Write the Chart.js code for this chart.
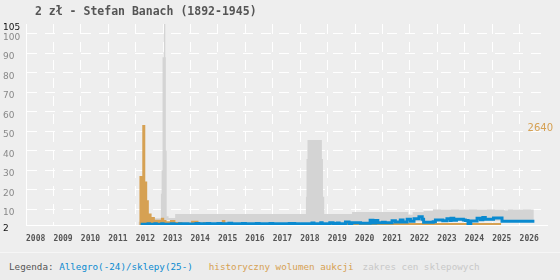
<!DOCTYPE html>
<html>
<head>
<meta charset="utf-8">
<script src="https://cdn.jsdelivr.net/npm/chart.js@4"></script>
<style>
  body { margin: 0; background: #eeeeee; width: 560px; height: 280px; overflow: hidden; position: relative; font-family: "DejaVu Sans Mono", monospace; }
  canvas { position: absolute; left: 0; top: 0; }
  #title { position: absolute; left: 35px; top: 4px; font-size: 11.5px; font-weight: bold; color: #555; white-space: pre; }
  #legend { position: absolute; left: 0; top: 252px; width: 560px; height: 28px; box-sizing: border-box; background: #ececec; border-top: 1px solid #f6f6f6; padding-left: 9px; font-size: 9.25px; line-height: 27px; white-space: pre; }
</style>
</head>
<body>
<canvas id="chart" width="560" height="252"></canvas>
<div id="title">2 zł - Stefan Banach (1892-1945)</div>
<div id="legend"><span style="color:#555">Legenda: </span><span style="color:#0a8ad0">Allegro(-24)/sklepy(25-)</span><span style="color:#d6a153;margin-left:16px">historyczny wolumen aukcji</span><span style="color:#c8c8c8;margin-left:9px">zakres cen sklepowych</span></div>
<script>
const yearTicks = [2008, 2009, 2010, 2011, 2012, 2013, 2014, 2015, 2016, 2017, 2018, 2019, 2020, 2021, 2022, 2023, 2024, 2025, 2026];
const priceTicks = [2, 10, 20, 30, 40, 50, 60, 70, 80, 90, 100, 105];
const volumeTick = 2640;

// zakres cen sklepowych (steps: value holds until next year mark)
const shopYears = [2012.10, 2012.18, 2012.92, 2012.945, 2012.98, 2013.03, 2013.08, 2013.10, 2013.13, 2013.20, 2013.44,
  2018.208, 2018.23, 2018.266, 2018.79, 2018.83, 2018.876, 2019.89, 2021.94, 2022.10, 2022.50, 2022.84, 2025.45, 2025.58, 2026.52];
const shopLow = [2.0, 2.6, 2.6, 2.6, 2.6, 2.6, 2.6, 2.6, 4.5, 4.5, 3.3,
  3.3, 3.3, 3.3, 3.3, 3.3, 3.3, 3.4, 3.6, 3.8, 4.0, 4.2, 4.2, 4.2, 4.2];
const shopHigh = [3.7, 5.5, 18, 30, 88, 130, 88, 40, 6.5, 5.6, 7.6,
  16.5, 35.8, 45.6, 35.8, 16.5, 7.6, 8.6, 7.3, 8.7, 9.2, 10.0, 9.4, 10.0, 10.0];

// historyczny wolumen aukcji
const volumeYears = [2012.13, 2012.24, 2012.35, 2012.42, 2012.48, 2012.58, 2012.70, 2012.92, 2013.04, 2013.12, 2013.25, 2013.45,
  2013.70, 2014.02, 2014.29, 2014.45, 2014.54, 2015.14, 2015.27, 2016.00, 2017.00, 2019.50, 2025.33];
const volume = [1290, 2640, 1150, 650, 300, 210, 140, 190, 130, 100, 130, 80,
  60, 110, 60, 80, 55, 130, 55, 50, 45, 55, 0];

// Allegro / sklepy
const priceYears = [2012.18, 2012.45, 2012.50, 2012.70, 2012.75, 2012.95, 2013.00, 2013.30, 2013.40, 2013.60, 2013.75, 2013.90,
  2014.20, 2014.30, 2014.60, 2014.70, 2015.00, 2015.10, 2015.40, 2015.50, 2015.90, 2016.00, 2016.40, 2016.50, 2016.90,
  2017.00, 2017.30, 2017.38, 2017.60, 2017.80, 2018.06, 2018.15, 2018.43, 2018.50, 2018.75, 2018.80, 2019.08, 2019.20,
  2019.35, 2019.42, 2019.65, 2019.78, 2019.88, 2020.20, 2020.55, 2020.65, 2020.75, 2020.83, 2021.00, 2021.10, 2021.35,
  2021.47, 2021.65, 2021.75, 2021.90, 2022.02, 2022.15, 2022.33, 2022.45, 2022.50, 2022.85, 2022.93, 2023.20, 2023.35,
  2023.47, 2023.50, 2023.60, 2023.70, 2023.95, 2024.02, 2024.12, 2024.22, 2024.45, 2024.57, 2024.66, 2024.75, 2025.05,
  2025.36, 2026.54];
const price = [2.35, 2.7, 2.35, 2.7, 2.35, 2.6, 2.4, 2.7, 2.4, 2.6, 2.7, 2.5,
  2.8, 2.6, 2.8, 2.6, 2.8, 2.6, 2.9, 2.6, 2.8, 2.6, 2.8, 2.6, 2.8,
  2.6, 2.2, 2.7, 2.8, 2.6, 2.1, 2.7, 3.0, 2.7, 3.1, 2.7, 3.1, 2.8,
  3.0, 2.7, 3.5, 2.1, 3.2, 2.9, 4.4, 3.0, 4.3, 3.2, 3.4, 3.1, 4.2,
  3.5, 4.6, 3.6, 5.0, 3.9, 5.2, 6.2, 5.0, 3.4, 3.7, 4.6, 4.2, 5.2,
  4.3, 5.4, 4.4, 5.0, 4.6, 4.3, 2.8, 4.0, 5.5, 4.7, 5.8, 5.0, 5.6,
  3.9, 3.9];

const pts = (xs, ys) => xs.map((x, i) => ({ x: x, y: ys[i] }));

new Chart(document.getElementById("chart"), {
  type: "line",
  data: {
    datasets: [
      {
        label: "zakres min",
        data: pts(shopYears, shopLow),
        stepped: true,
        borderWidth: 0,
        pointRadius: 0,
        fill: false,
        order: 3,
      },
      {
        label: "zakres cen sklepowych",
        data: pts(shopYears, shopHigh),
        stepped: true,
        borderWidth: 0,
        pointRadius: 0,
        backgroundColor: "#d4d4d4",
        fill: "-1",
        order: 2,
      },
      {
        label: "historyczny wolumen aukcji",
        data: pts(volumeYears, volume),
        yAxisID: "yv",
        stepped: true,
        borderWidth: 0,
        pointRadius: 0,
        backgroundColor: "#d6a153",
        fill: "origin",
        order: 1,
      },
      {
        label: "Allegro(-24)/sklepy(25-)",
        data: pts(priceYears, price),
        stepped: true,
        borderWidth: 3,
        borderColor: "#0a8ad0",
        pointRadius: 0,
        fill: false,
        order: 0,
      },
    ],
  },
  options: {
    responsive: false,
    animation: false,
    devicePixelRatio: 1,
    layout: { padding: { left: 3, right: 13, top: 24, bottom: 0 } },
    plugins: { legend: { display: false }, tooltip: { enabled: false } },
    scales: {
      x: {
        type: "linear",
        min: 2008,
        max: 2027,
        afterBuildTicks: (s) => { s.ticks = yearTicks.map((v) => ({ value: v })); },
        afterFit: (s) => { s.height = 27; },
        ticks: {
          align: "start",
          padding: 9,
          maxRotation: 0,
          autoSkip: false,
          color: "#555",
          font: { family: "DejaVu Sans Mono", size: 8, weight: "bold" },
          callback: (v) => String(v),
        },
        grid: { color: "#ffffff", drawTicks: false },
        border: { display: true, color: "#ffffff", dash: [10, 8] },
      },
      y: {
        min: 2,
        max: 105,
        afterBuildTicks: (s) => { s.ticks = priceTicks.map((v) => ({ value: v })); },
        afterFit: (s) => { s.width = 23; },
        ticks: {
          crossAlign: "far",
          padding: 6,
          labelOffset: 3.5,
          color: (c) => (c.tick.value === 2 || c.tick.value === 105 ? "#111" : "#888"),
          font: { family: "DejaVu Sans", size: 9 },
          callback: (v) => String(v),
        },
        grid: {
          color: (c) => (c.tick && c.tick.value === 105 ? "rgba(0,0,0,0)" : "#ffffff"),
          drawTicks: false,
        },
        border: { display: true, color: "#ffffff", dash: [10, 8] },
      },
      yv: {
        position: "right",
        min: 0,
        max: 5300,
        afterBuildTicks: (s) => { s.ticks = [{ value: volumeTick }]; },
        afterFit: (s) => { s.width = 0; },
        ticks: {
          mirror: true,
          padding: 6,
          labelOffset: 4,
          color: "#d6a153",
          font: { family: "DejaVu Sans", size: 10 },
          callback: (v) => String(v),
        },
        grid: { display: false },
        border: { display: false },
      },
    },
  },
});
</script>
</body>
</html>
